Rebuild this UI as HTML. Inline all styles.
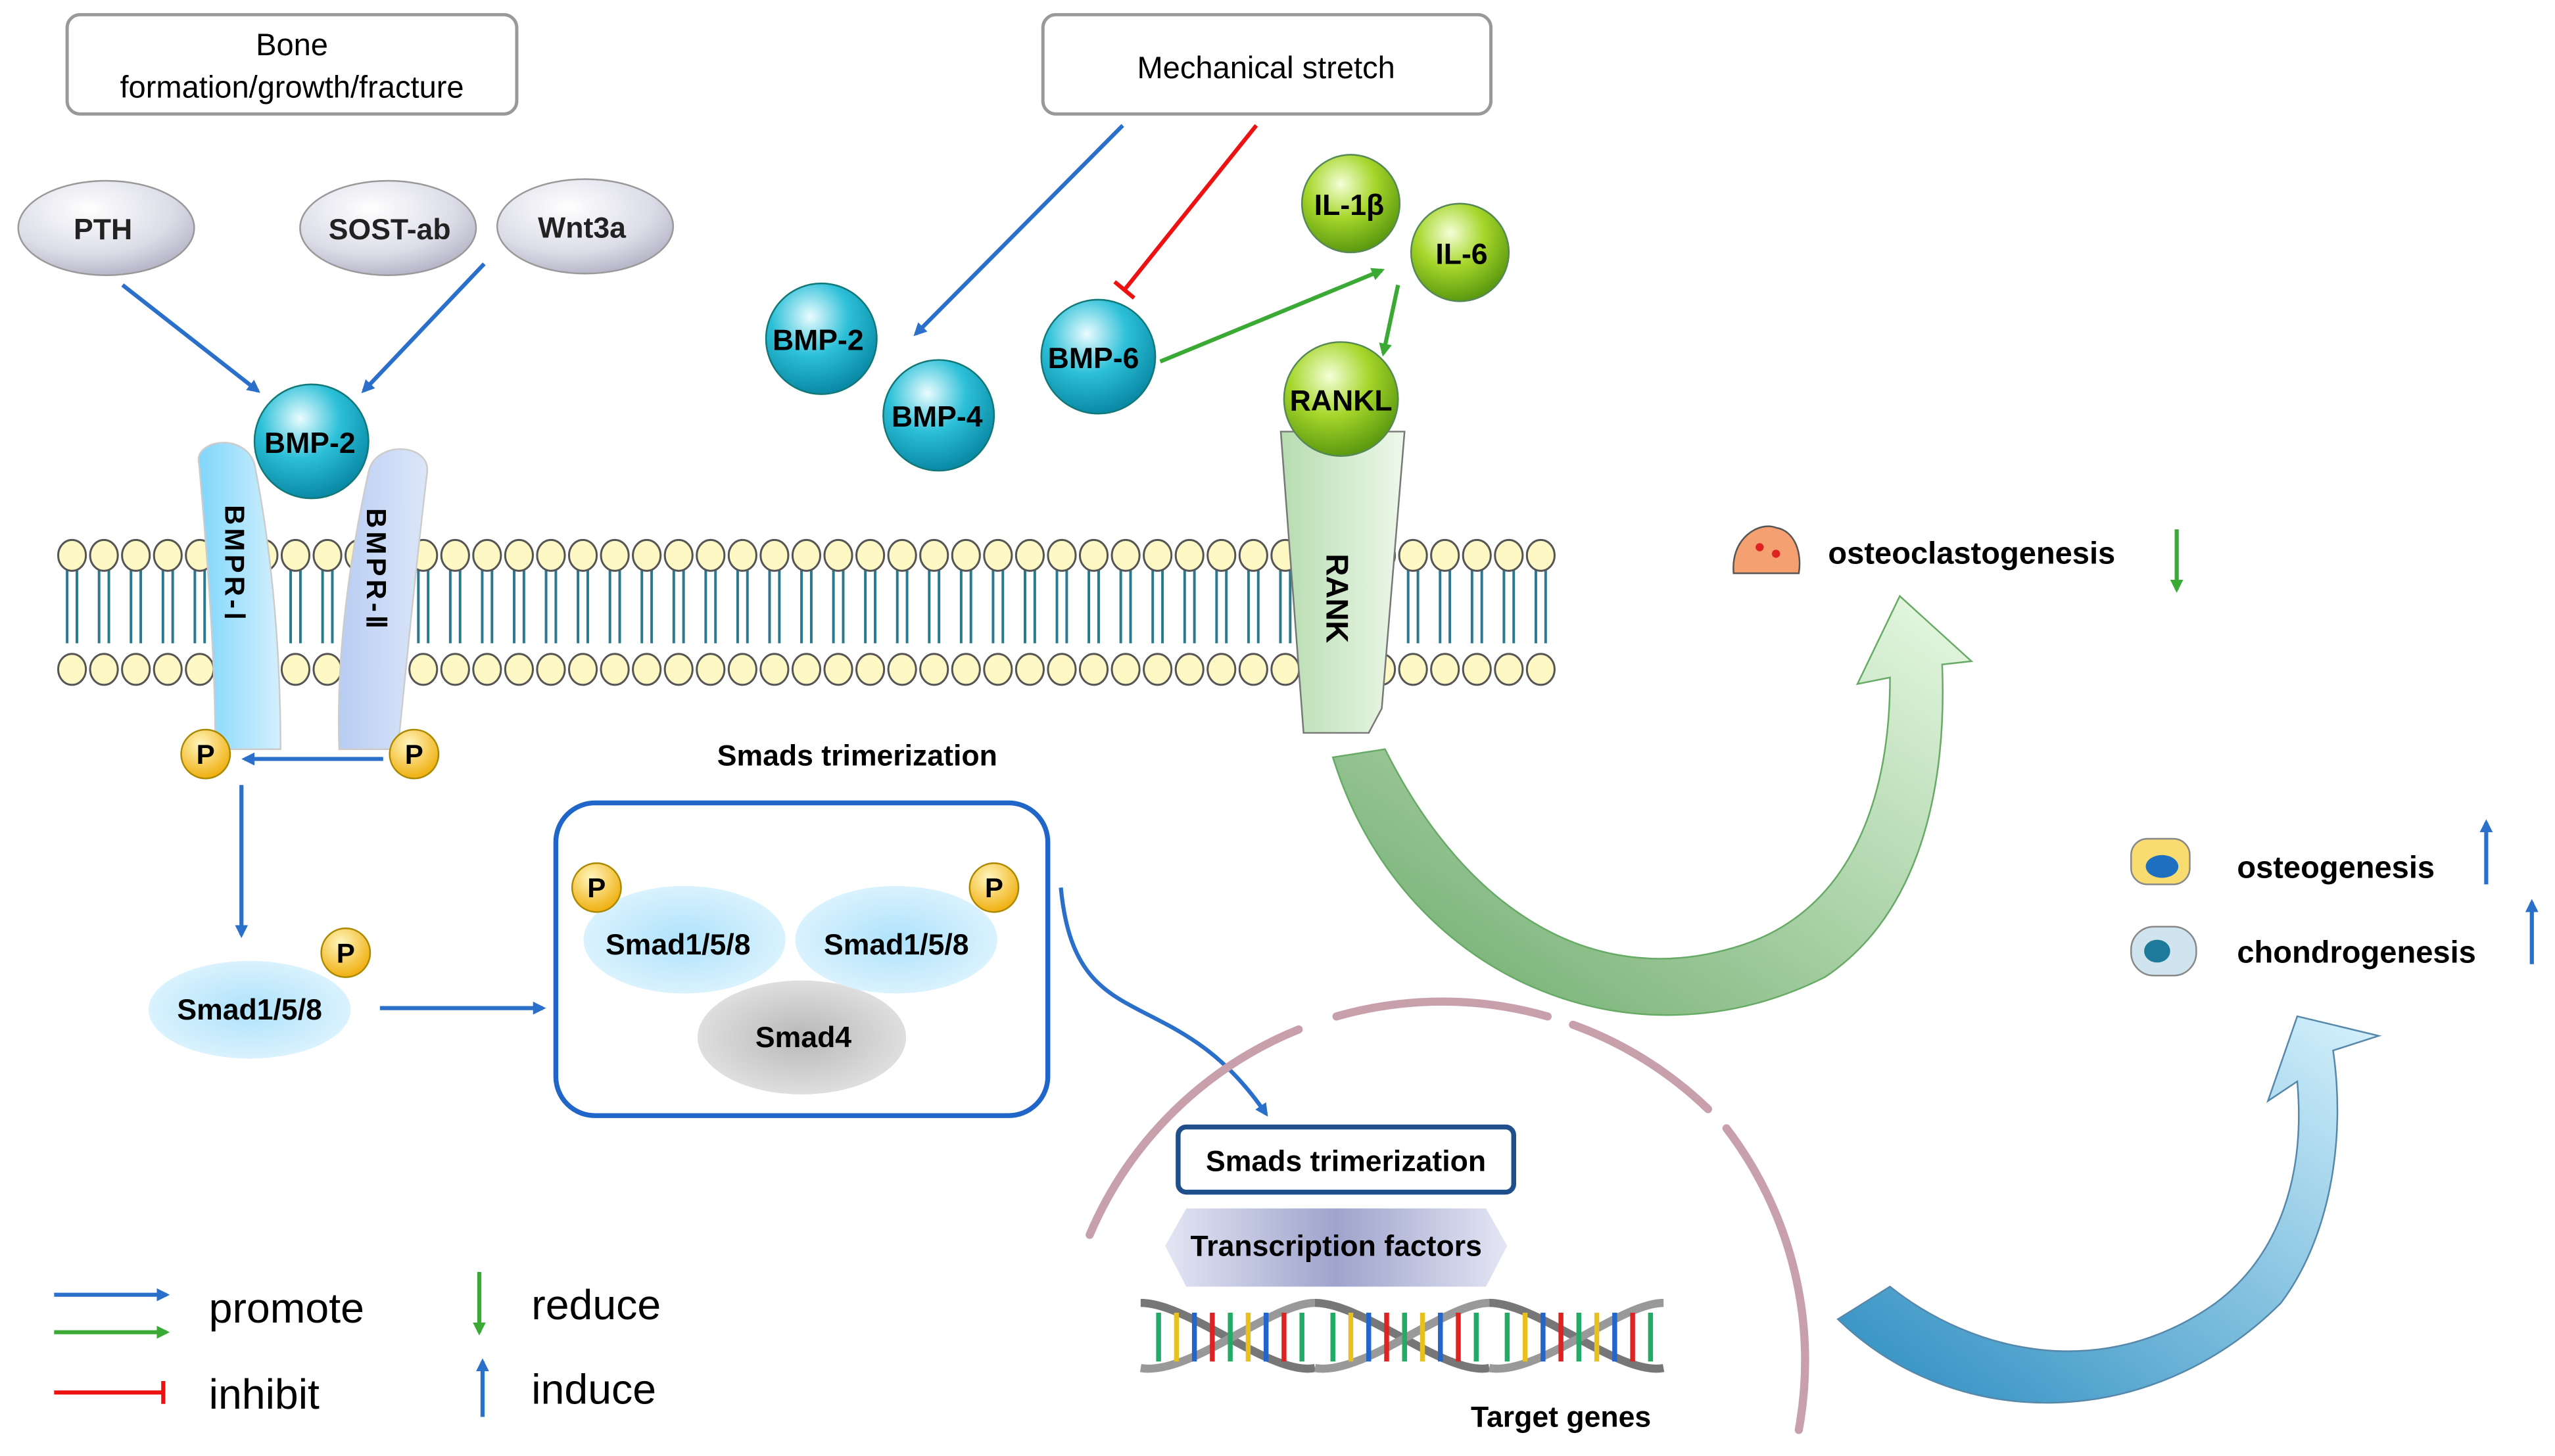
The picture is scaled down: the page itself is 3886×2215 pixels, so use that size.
<!DOCTYPE html>
<html><head><meta charset="utf-8"><style>
html,body{margin:0;padding:0;background:#fff;width:3886px;height:2215px;overflow:hidden;}
svg{display:block;}
text{font-family:"Liberation Sans",Arial,sans-serif;}
</style></head><body>
<svg id="s" width="3886" height="2215" viewBox="0 0 1568 894" xmlns="http://www.w3.org/2000/svg">
<defs>
<radialGradient id="cy" cx="0.4" cy="0.3" r="0.7"><stop offset="0" stop-color="#eafcff"/><stop offset="0.5" stop-color="#2cc0d8"/><stop offset="1" stop-color="#0a8aa6"/></radialGradient>
<radialGradient id="gr" cx="0.4" cy="0.3" r="0.7"><stop offset="0" stop-color="#f4ffd8"/><stop offset="0.5" stop-color="#a6d62a"/><stop offset="1" stop-color="#5c9a10"/></radialGradient>
<radialGradient id="gy" cx="0.4" cy="0.3" r="0.8"><stop offset="0" stop-color="#ffffff"/><stop offset="0.6" stop-color="#dcdce8"/><stop offset="1" stop-color="#a8a8bc"/></radialGradient>
<radialGradient id="yp" cx="0.4" cy="0.3" r="0.7"><stop offset="0" stop-color="#fff6c0"/><stop offset="1" stop-color="#f0b010"/></radialGradient>
<radialGradient id="sm" cx="0.5" cy="0.5" r="0.6"><stop offset="0" stop-color="#aee2fb"/><stop offset="1" stop-color="#e2f5fe"/></radialGradient>
<radialGradient id="s4" cx="0.5" cy="0.5" r="0.6"><stop offset="0" stop-color="#b8b8b8"/><stop offset="1" stop-color="#e6e6e6"/></radialGradient>
<linearGradient id="r1" x1="0" x2="1"><stop offset="0" stop-color="#7fd6fb"/><stop offset="1" stop-color="#d4f0fd"/></linearGradient>
<linearGradient id="r2" x1="0" x2="1"><stop offset="0" stop-color="#b8cdf3"/><stop offset="1" stop-color="#dde6f8"/></linearGradient>
<linearGradient id="rk" x1="0" x2="1"><stop offset="0" stop-color="#b6dcb0"/><stop offset="1" stop-color="#eef8ea"/></linearGradient>
<linearGradient id="ga" x1="0" y1="1" x2="1" y2="0"><stop offset="0" stop-color="#6aa868"/><stop offset="1" stop-color="#e8fae4"/></linearGradient>
<linearGradient id="ba" x1="0" y1="1" x2="1" y2="0"><stop offset="0" stop-color="#2a8cc0"/><stop offset="1" stop-color="#d6f2fd"/></linearGradient>
<linearGradient id="tf" x1="0" x2="1"><stop offset="0" stop-color="#e4e6f4"/><stop offset="0.5" stop-color="#9ea4cc"/><stop offset="1" stop-color="#e4e6f4"/></linearGradient>
<marker id="ab" markerWidth="8" markerHeight="8" refX="6" refY="4" orient="auto" markerUnits="userSpaceOnUse"><path d="M0,0 L8,4 L0,8 Z" fill="#2a6fc9"/></marker>
<marker id="ag" markerWidth="8" markerHeight="8" refX="6" refY="4" orient="auto" markerUnits="userSpaceOnUse"><path d="M0,0 L8,4 L0,8 Z" fill="#3aaa35"/></marker>
</defs>
<g id="mem"></g>

<rect x="41" y="9" width="276" height="61" rx="8" fill="#fff" stroke="#999" stroke-width="2"/>
<text x="179" y="34" font-size="19" text-anchor="middle">Bone</text>
<text x="179" y="60" font-size="19" text-anchor="middle">formation/growth/fracture</text>
<rect x="640" y="9" width="275" height="61" rx="8" fill="#fff" stroke="#999" stroke-width="2"/>
<text x="777" y="48" font-size="19" text-anchor="middle">Mechanical stretch</text>

<ellipse cx="65" cy="140" rx="54" ry="29" fill="url(#gy)" stroke="#999"/>
<text x="63" y="147" font-size="18" font-weight="bold" text-anchor="middle" fill="#222">PTH</text>
<ellipse cx="238" cy="140" rx="54" ry="29" fill="url(#gy)" stroke="#999"/>
<text x="239" y="147" font-size="18" font-weight="bold" text-anchor="middle" fill="#222">SOST-ab</text>
<ellipse cx="359" cy="139" rx="54" ry="29" fill="url(#gy)" stroke="#999"/>
<text x="357" y="146" font-size="18" font-weight="bold" text-anchor="middle" fill="#222">Wnt3a</text>

<g stroke="#2a6fc9" stroke-width="2.5" fill="none" marker-end="url(#ab)">
<line x1="75" y1="175" x2="158" y2="240"/>
<line x1="297" y1="162" x2="223" y2="240"/>
<line x1="689" y1="77" x2="562" y2="205"/>
<line x1="148" y1="482" x2="148" y2="574"/>
<line x1="235" y1="466" x2="150" y2="466"/>
<line x1="233" y1="619" x2="333" y2="619"/>
<path d="M651,545 C660,640 720,600 777,684"/>
<line x1="33" y1="795" x2="102" y2="795"/>
<line x1="296" y1="870" x2="296" y2="836"/>
<line x1="1526" y1="543" x2="1526" y2="505"/>
<line x1="1554" y1="592" x2="1554" y2="554"/>
</g>
<g stroke="#3aaa35" stroke-width="2.5" fill="none" marker-end="url(#ag)">
<line x1="712" y1="222" x2="848" y2="166"/>
<line x1="858" y1="175" x2="849" y2="217"/>
<line x1="33" y1="818" x2="102" y2="818"/>
<line x1="294" y1="781" x2="294" y2="818"/>
<line x1="1336" y1="325" x2="1336" y2="362"/>
</g>
<g stroke="#ee1111" stroke-width="2.5">
<line x1="771" y1="77" x2="690" y2="178"/>
<line x1="684" y1="173" x2="696" y2="183"/>
<line x1="33" y1="855" x2="100" y2="855"/>
<line x1="100" y1="848" x2="100" y2="862"/>
</g>

<path d="M122,285 C118,270 150,265 156,285 C165,330 172,390 172,460 L132,460 C132,400 126,330 122,285Z" fill="url(#r1)" stroke="#ccc"/>
<path d="M262,290 C264,272 230,270 226,290 C215,340 206,400 208,460 L244,460 C250,400 256,340 262,290Z" fill="url(#r2)" stroke="#ccc"/>
<text transform="translate(138,310) rotate(90)" font-size="17" font-weight="bold" letter-spacing="2">BMPR-Ⅰ</text>
<text transform="translate(225,312) rotate(90)" font-size="17" font-weight="bold" letter-spacing="2">BMPR-Ⅱ</text>
<circle cx="191" cy="271" r="35" fill="url(#cy)" stroke="#177"/>
<text x="190" y="278" font-size="18" font-weight="bold" text-anchor="middle">BMP-2</text>

<path d="M786,265 L862,265 L848,435 L840,450 L800,450 Z" fill="url(#rk)" stroke="#777"/>
<text transform="translate(814,340) rotate(90)" font-size="19" font-weight="bold">RANK</text>

<circle cx="504" cy="208" r="34" fill="url(#cy)" stroke="#177"/>
<text x="502" y="215" font-size="18" font-weight="bold" text-anchor="middle">BMP-2</text>
<circle cx="576" cy="255" r="34" fill="url(#cy)" stroke="#177"/>
<text x="575" y="262" font-size="18" font-weight="bold" text-anchor="middle">BMP-4</text>
<circle cx="674" cy="219" r="35" fill="url(#cy)" stroke="#177"/>
<text x="671" y="226" font-size="18" font-weight="bold" text-anchor="middle">BMP-6</text>
<circle cx="829" cy="125" r="30" fill="url(#gr)" stroke="#585"/>
<text x="828" y="132" font-size="18" font-weight="bold" text-anchor="middle">IL-1β</text>
<circle cx="896" cy="155" r="30" fill="url(#gr)" stroke="#585"/>
<text x="897" y="162" font-size="18" font-weight="bold" text-anchor="middle">IL-6</text>
<circle cx="823" cy="245" r="35" fill="url(#gr)" stroke="#585"/>
<text x="823" y="252" font-size="18" font-weight="bold" text-anchor="middle">RANKL</text>

<g font-size="17" font-weight="bold" text-anchor="middle">
<circle cx="126" cy="463" r="15" fill="url(#yp)" stroke="#a80"/><text x="126" y="469">P</text>
<circle cx="254" cy="463" r="15" fill="url(#yp)" stroke="#a80"/><text x="254" y="469">P</text>
<circle cx="212" cy="585" r="15" fill="url(#yp)" stroke="#a80"/><text x="212" y="591">P</text>
</g>

<ellipse cx="153" cy="620" rx="62" ry="30" fill="url(#sm)"/>
<text x="153" y="626" font-size="18" font-weight="bold" text-anchor="middle">Smad1/5/8</text>

<text x="526" y="470" font-size="18" font-weight="bold" text-anchor="middle">Smads  trimerization</text>
<rect x="341" y="493" width="302" height="192" rx="24" fill="#fff" stroke="#1f66c8" stroke-width="3"/>
<ellipse cx="492" cy="637" rx="64" ry="35" fill="url(#s4)"/>
<text x="493" y="643" font-size="18" font-weight="bold" text-anchor="middle">Smad4</text>
<ellipse cx="420" cy="577" rx="62" ry="33" fill="url(#sm)"/>
<text x="416" y="586" font-size="18" font-weight="bold" text-anchor="middle">Smad1/5/8</text>
<ellipse cx="550" cy="577" rx="62" ry="33" fill="url(#sm)"/>
<text x="550" y="586" font-size="18" font-weight="bold" text-anchor="middle">Smad1/5/8</text>
<g font-size="17" font-weight="bold" text-anchor="middle">
<circle cx="366" cy="545" r="15" fill="url(#yp)" stroke="#a80"/><text x="366" y="551">P</text>
<circle cx="610" cy="545" r="15" fill="url(#yp)" stroke="#a80"/><text x="610" y="551">P</text>
</g>

<!-- nucleus arc segments -->
<g fill="none" stroke="#c8a0ac" stroke-width="5" stroke-linecap="round">
<path d="M668.7,758.2 A235,235 0 0 1 797,632.1"/>
<path d="M820.2,624.1 A235,235 0 0 1 949.8,624.1"/>
<path d="M965.4,629.2 A235,235 0 0 1 1048.3,681"/>
<path d="M1059.6,692.8 A235,235 0 0 1 1104,878"/>
</g>

<path d="M818,465 C860,600 1000,660 1120,600 C1180,560 1195,480 1192,408 L1210,406 L1166,366 L1140,420 L1160,416 C1160,500 1130,560 1070,580 C980,610 900,560 850,460 Z" fill="url(#ga)" stroke="#6a6" stroke-width="1"/>
<path d="M1128,810 C1200,880 1320,880 1400,800 C1430,760 1440,700 1432,645 L1460,636 L1410,624 L1392,676 L1410,664 C1415,720 1400,770 1360,800 C1290,850 1210,830 1160,790 Z" fill="url(#ba)" stroke="#58a" stroke-width="1"/>

<rect x="723" y="692" width="206" height="40" rx="5" fill="#fff" stroke="#1f4f8a" stroke-width="3"/>
<text x="826" y="719" font-size="18" font-weight="bold" text-anchor="middle">Smads  trimerization</text>
<polygon points="728,742 912,742 925,765 912,790 728,790 715,765" fill="url(#tf)"/>
<text x="820" y="771" font-size="18" font-weight="bold" text-anchor="middle">Transcription factors</text>
<g id="dna"></g>
<text x="958" y="876" font-size="18" font-weight="bold" text-anchor="middle">Target genes</text>

<path d="M1064,352 C1062,330 1080,320 1090,324 C1102,326 1106,340 1104,352 Z" fill="#f4a070" stroke="#555"/>
<circle cx="1080" cy="336" r="2.5" fill="#d22"/><circle cx="1090" cy="340" r="2.5" fill="#d22"/>
<text x="1122" y="346" font-size="19" font-weight="bold">osteoclastogenesis</text>
<rect x="1308" y="515" width="36" height="28" rx="10" fill="#f8dc70" stroke="#888"/>
<ellipse cx="1327" cy="532" rx="10" ry="7" fill="#1e6fc0"/>
<text x="1373" y="539" font-size="19" font-weight="bold">osteogenesis</text>
<rect x="1308" y="569" width="40" height="30" rx="14" fill="#cfe4ee" stroke="#888"/>
<ellipse cx="1324" cy="584" rx="8" ry="7" fill="#1e7a9a"/>
<text x="1373" y="591" font-size="19" font-weight="bold">chondrogenesis</text>

<text x="128" y="812" font-size="26">promote</text>
<text x="128" y="865" font-size="26">inhibit</text>
<text x="326" y="810" font-size="26">reduce</text>
<text x="326" y="862" font-size="26">induce</text>
</svg>
<script>
var m=document.getElementById("mem"),h="";
for(var x=44;x<=962;x+=19.6){
 h+='<path d="M'+(x-3)+',350 L'+(x-3)+',395 M'+(x+3)+',350 L'+(x+3)+',395" stroke="#2c7890" stroke-width="1.6" fill="none"/>';
 h+='<ellipse cx="'+x+'" cy="341" rx="8.5" ry="9.5" fill="#fdf8c4" stroke="#555" stroke-width="1.2"/>';
 h+='<ellipse cx="'+x+'" cy="411" rx="8.5" ry="9.5" fill="#fdf8c4" stroke="#555" stroke-width="1.2"/>';
}
m.innerHTML=h;
var d=document.getElementById("dna"),g="",cols=["#d22","#2a6","#e8c020","#26c"];
for(var i=0;i<3;i++){var x0=700+i*107;
 g+='<path d="M'+x0+',800 C'+(x0+30)+',800 '+(x0+80)+',845 '+(x0+107)+',840" stroke="#777" stroke-width="5" fill="none"/>';
 g+='<path d="M'+x0+',840 C'+(x0+30)+',845 '+(x0+80)+',800 '+(x0+107)+',800" stroke="#999" stroke-width="5" fill="none"/>';
 for(var k=1;k<10;k++){var xx=x0+k*11;g+='<line x1="'+xx+'" y1="806" x2="'+xx+'" y2="836" stroke="'+cols[k%4]+'" stroke-width="3"/>';}
}
d.innerHTML=g;
</script>
</body></html>
